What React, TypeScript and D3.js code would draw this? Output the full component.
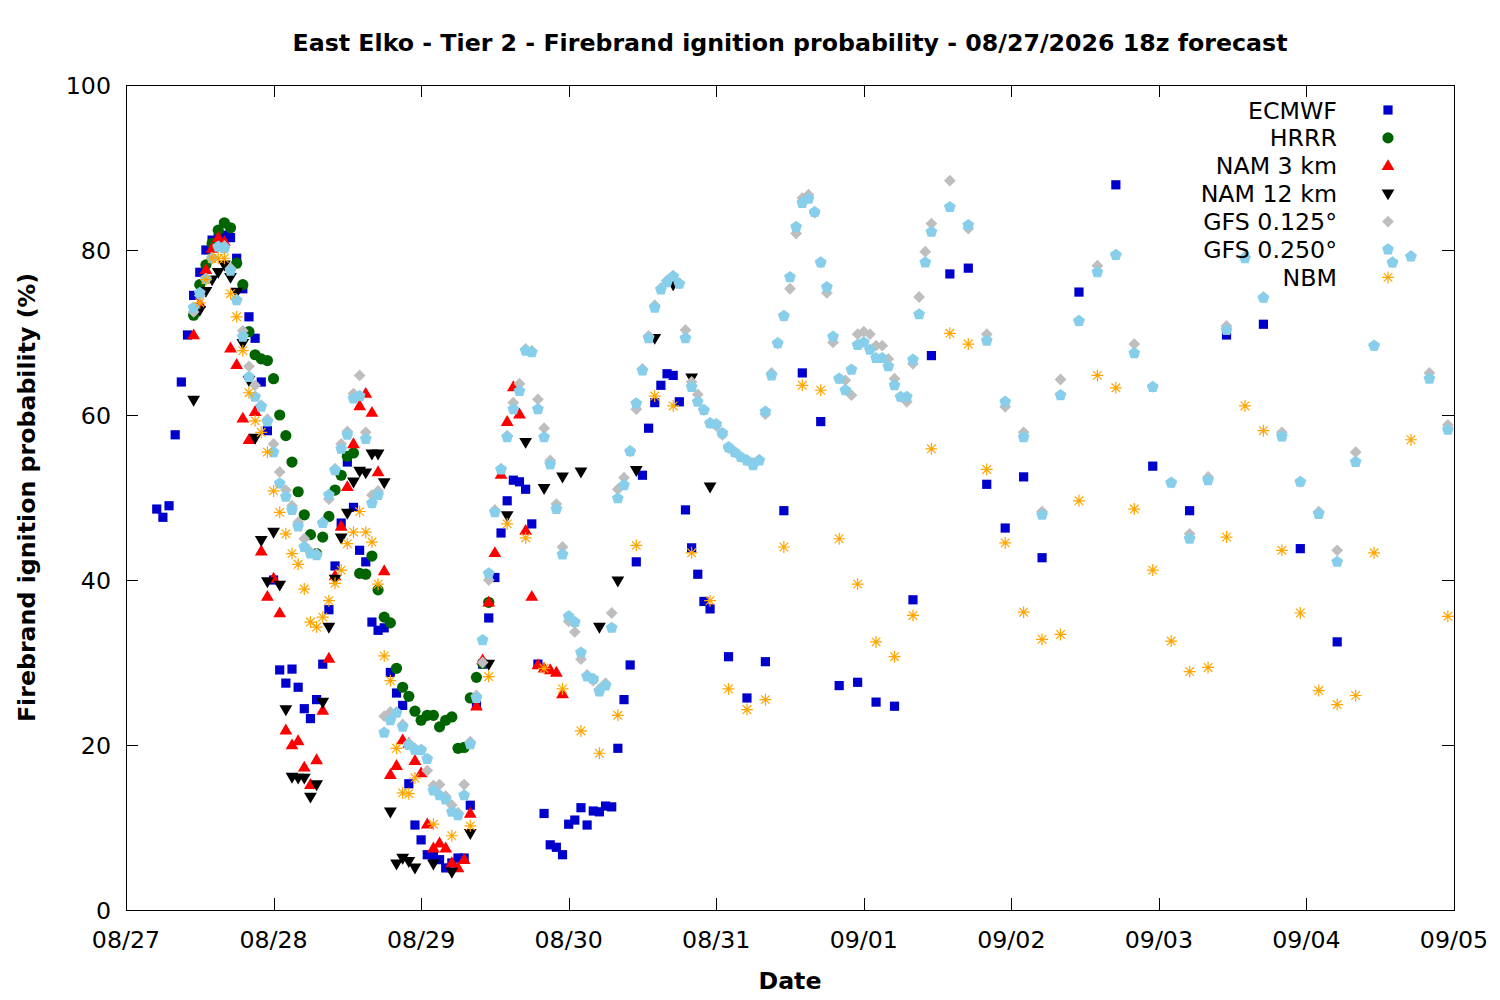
import * as d3 from 'd3';
import { useEffect, useRef } from 'react';

// valid times are hours after 08/27 00h, values in %
const DAY0 = Date.UTC(2026, 7, 27);

const ecmwfHourly = [
  48.6, 47.6, 49.0, 57.6, 64.0, 69.7, 74.5, 77.3, 80.0, 81.2,
  81.5, 81.8, 81.5, 79.0, 75.3, 71.9, 69.3, 64.0, 58.1, 40.0,
  29.1, 27.5, 29.2, 27.0, 24.4, 23.2, 25.5, 29.8, 36.4, 41.7,
  46.9, 54.3, 48.8, 43.6, 42.2, 34.9, 33.9, 34.2, 28.8, 26.3,
  24.8, 15.3, 10.3, 8.5, 6.7, 6.5, 6.1, 5.1, 5.7, 6.3,
  6.3, 12.7, 24.8, 29.8, 35.4, 40.3, 45.7, 49.6, 52.1, 51.9,
  51.0, 46.8, 29.8, 11.7, 7.9, 7.6, 6.7, 10.4, 10.9, 12.4,
  10.3, 12.0, 11.9, 12.6, 12.5, 19.6, 25.5, 29.7, 42.2, 52.7,
  58.4, 61.5, 63.6, 65.0, 64.8, 61.6, 48.5, 43.9, 40.7, 37.4, 36.5,
];
const ecmwf3h = [30.7, 25.7, 30.1, 48.4, 65.1, 59.2, 27.2, 27.6, 25.2, 24.7, 37.6, 67.2, 77.1, 77.8, 51.6, 46.3, 52.5, 42.7];
const ecmwf6h = [74.9, 87.9, 53.8, 48.4, 69.7, 71.0, 43.8, 32.5];

const hrrrHourly = [
  72.1, 75.8, 78.2, 80.8, 82.4, 83.3, 82.7, 78.4, 75.8, 70.1,
  67.3, 66.8, 66.6, 64.4, 60.0, 57.5, 54.3, 50.7, 47.9, 45.5,
  43.2, 45.2, 47.7, 50.9, 52.7, 55.0, 55.4, 40.8, 40.7, 42.9,
  38.8, 35.5, 34.8, 29.3, 27.0, 25.9, 24.1, 23.0, 23.6, 23.6,
  22.2, 23.0, 23.4, 19.6, 19.7, 25.7, 28.2, 29.9, 37.3,
];

const nam3Hourly = [
  69.7, 73.5, 77.6, 80.2, 81.5, 81.0, 68.1, 66.1, 59.6, 57.0,
  60.4, 43.5, 38.0, 40.2, 36.0, 21.8, 20.0, 20.5, 17.3, 15.2,
  18.2, 24.2, 30.5, 40.5, 46.5, 51.3, 56.5, 61.1, 62.6, 60.3,
  53.1, 41.1, 16.4, 17.5, 20.6, 20.2, 18.1, 16.6, 10.4, 7.5,
  8.1, 7.5, 5.7, 5.1, 6.1, 11.7, 24.7, 30.3, 37.3, 43.3,
  52.8, 59.2, 63.4, 60.1, 46.0, 38.0, 29.7, 29.3, 29.1, 28.8, 26.2,
];

const nam12Hourly = [
  61.8, 72.7, 75.0, 76.4, 77.3, 78.2, 76.7, 74.9, 68.7, 64.2,
  57.2, 44.8, 39.8, 45.8, 39.4, 24.3, 16.1, 16.0, 16.0, 13.7,
  15.2, 25.2, 34.3, 40.1, 45.1, 48.1, 51.9, 53.2, 53.0, 55.3,
  55.3, 51.8, 11.9, 5.6, 6.3, 5.9, 5.1,
];
const nam12_3h = [5.6, 4.6, 9.3, 29.8, 47.8, 56.7, 51.1, 52.5, 53.1, 34.3, 39.9, 53.3, 69.3, 75.8, 64.5, 51.3];

const gfs125Hourly = [
  72.5, 74.5, 76.5, 79.0, 80.4, 80.5, 77.8, 74.0, 70.2, 65.9,
  63.6, 61.2, 59.5, 56.5, 53.1, 50.9, 49.0, 47.0, 45.0, 43.4,
  43.2, 47.0, 49.8, 53.5, 56.5, 58.0, 62.6, 64.8, 57.9, 50.3,
  50.8, 23.5, 24.0, 24.0, 22.5, 20.2, 19.6, 19.4, 16.9, 15.1,
  15.2, 13.8, 12.7, 11.8, 15.2, 20.4, 26.0, 30.0, 40.0, 48.5,
  53.5, 57.5, 61.5, 63.8, 68.0, 67.8, 61.9, 58.4, 54.5, 49.2,
  44.0, 35.0, 33.7, 30.4, 28.5, 27.8, 26.8, 27.5, 36.0, 51.0,
  52.4, 55.6, 60.7, 65.6, 69.6, 73.3, 75.4, 76.3, 76.9, 76.0,
  70.3, 64.0, 62.5, 60.6, 59.0, 58.7, 57.6, 56.0, 55.5, 54.9,
  54.5, 54.2, 54.6, 60.1, 65.1, 68.7, 72.0, 75.3, 82.0, 86.3,
  86.7, 84.5, 78.5, 74.8, 68.8, 64.4, 64.2, 62.4, 69.8, 70.1,
  69.8, 68.4, 68.4, 66.8, 64.4, 62.2, 61.6, 66.2, 74.3, 79.8, 83.2,
];
const gfs125_3h = [
  88.4, 82.6, 69.8, 61.0, 57.9, 48.3, 64.3, 71.4, 78.1, 79.4, 68.6, 63.4, 51.8, 45.6,
  52.5, 70.8, 79.2, 74.3, 57.9, 51.9, 48.3, 43.6, 55.5, 68.4, 78.5, 79.3, 65.1, 58.8,
];

const gfs250Hourly = [
  73.0, 74.8, 76.5, 79.0, 80.4, 80.2, 77.5, 73.9, 69.5, 64.6,
  62.2, 61.0, 59.2, 55.5, 51.7, 50.1, 48.5, 46.5, 44.0, 43.2,
  43.0, 46.9, 50.3, 53.3, 55.9, 57.6, 62.0, 62.3, 57.1, 49.3,
  50.3, 21.5, 23.0, 23.9, 22.2, 20.0, 19.4, 19.4, 18.3, 14.5,
  13.9, 13.4, 11.9, 11.5, 13.9, 20.1, 25.7, 32.7, 40.8, 48.2,
  53.4, 57.3, 60.7, 62.9, 67.8, 67.6, 60.7, 57.3, 54.0, 48.6,
  43.1, 35.6, 34.9, 31.2, 28.3, 28.0, 26.5, 27.2, 34.2, 49.9,
  51.5, 55.6, 61.4, 65.4, 69.3, 73.0, 75.2, 76.1, 76.8, 75.9,
  69.3, 63.4, 61.6, 60.6, 59.0, 58.9, 57.8, 56.1, 55.5, 54.9,
  54.5, 53.9, 54.5, 60.4, 64.8, 68.7, 72.0, 76.7, 82.8, 85.7,
  86.2, 84.6, 78.5, 75.5, 69.5, 64.4, 63.0, 65.5, 68.5, 68.8,
  67.9, 66.9, 66.9, 65.9, 63.6, 62.2, 62.2, 66.7, 72.2, 78.5, 82.2,
];
const gfs250_3h = [
  85.2, 83.0, 69.0, 61.6, 57.3, 47.9, 62.4, 71.4, 77.3, 79.4, 67.5, 63.4, 51.8, 45.0,
  52.1, 70.3, 79.0, 74.2, 57.4, 51.9, 48.0, 42.2, 54.3, 68.4, 78.5, 79.2, 64.4, 58.2,
];

const nbmHourly = [
  73.6, 76.4, 79.0, 79.0, 79.0, 74.7, 71.9, 67.8, 62.7, 59.3,
  57.9, 55.5, 50.8, 48.2, 45.6, 43.2, 41.9, 38.9, 34.9, 34.3,
  35.5, 37.5, 39.6, 41.2, 44.4, 45.8, 48.3, 45.8, 44.6, 39.5,
  30.8, 27.8, 19.6, 14.2, 14.1, 16.0,
];
const nbm3h = [
  10.4, 9.0, 10.2, 28.3, 46.8, 45.1, 29.3, 26.8, 21.7, 19.0, 23.6, 44.2, 62.3, 61.1,
  43.3, 37.5, 26.8, 24.3, 25.5, 44.0, 63.6, 63.0, 45.0, 39.5, 32.5, 30.7, 35.7, 55.9,
  69.9, 68.6, 53.4, 44.5, 36.1, 32.8, 33.4, 49.6, 64.8, 63.3, 48.6, 41.2, 32.6, 28.9,
  29.4, 45.2, 61.1, 58.1, 43.6, 36.0, 26.6, 24.9, 26.0, 43.3,
];
const nbm6h = [57.0, 35.6];

const seriesNames = ['ECMWF', 'HRRR', 'NAM 3 km', 'NAM 12 km', 'GFS 0.125°', 'GFS 0.250°', 'NBM'];
const seriesColors = ['#0000cc', '#006400', '#ff0000', '#000000', '#bebebe', '#87ceeb', '#ffa500'];
const yTicks = [0, 20, 40, 60, 80, 100];

type Pt = { t: Date; v: number };
const run = (start: number, step: number, vals: number[]): Pt[] =>
  vals.map((v, i) => ({ t: new Date(DAY0 + (start + i * step) * 3600e3), v }));

const seriesData: Pt[][] = [
  [...run(5, 1, ecmwfHourly), ...run(98, 3, ecmwf3h), ...run(155, 6, ecmwf6h)],
  run(11, 1, hrrrHourly),
  run(11, 1, nam3Hourly),
  [...run(11, 1, nam12Hourly), ...run(50, 3, nam12_3h)],
  [...run(11, 1, gfs125Hourly), ...run(134, 3, gfs125_3h)],
  [...run(11, 1, gfs250Hourly), ...run(134, 3, gfs250_3h)],
  [...run(12, 1, nbmHourly), ...run(50, 3, nbm3h), ...run(209, 6, nbm6h)],
];

const pentagon = d3.range(5).map((k) => {
  const a = (-90 + 72 * k) * Math.PI / 180;
  return [6.2 * Math.cos(a), 6.2 * Math.sin(a)];
});

const symbolPaths = [
  'M-4.6,-4.6h9.2v9.2h-9.2z',
  d3.symbol(d3.symbolCircle, Math.PI * 5.6 * 5.6)() as string,
  'M0,-6.6L6.4,4.3L-6.4,4.3Z',
  'M0,6.6L6.4,-4.3L-6.4,-4.3Z',
  'M0,-5.9L5.9,0L0,5.9L-5.9,0Z',
  'M' + pentagon.map((p) => p.join(',')).join('L') + 'Z',
  'M-6,0H6M0,-6V6M-4.3,-4.3L4.3,4.3M-4.3,4.3L4.3,-4.3',
];

export default function App() {
  const svgRef = useRef<SVGSVGElement>(null);

  useEffect(() => {
    const W = 1500;
    const H = 1000;
    const margin = { top: 85, right: 46, bottom: 90, left: 126 };
    const font = '"DejaVu Sans", Verdana, sans-serif';
    const fs = 23.7;

    const x = d3
      .scaleUtc()
      .domain([new Date(DAY0), new Date(DAY0 + 9 * 86400e3)])
      .range([margin.left, W - margin.right]);
    const y = d3.scaleLinear().domain([0, 100]).range([H - margin.bottom, margin.top]);

    const svg = d3.select(svgRef.current);
    svg.selectAll('*').remove();
    svg.append('rect').attr('width', W).attr('height', H).attr('fill', '#fff');

    const [x0, x1] = x.range();
    const [y0, y1] = y.range();

    // ticks, drawn inward and mirrored
    const g = svg.append('g').attr('stroke', '#000').attr('stroke-width', 1);
    const days = x.ticks(d3.utcDay.every(1)!);
    days.forEach((d) => {
      const px = Math.round(x(d)) + 0.5;
      g.append('line').attr('x1', px).attr('x2', px).attr('y1', y0).attr('y2', y0 - 12);
      g.append('line').attr('x1', px).attr('x2', px).attr('y1', y1).attr('y2', y1 + 12);
    });
    yTicks.forEach((t) => {
      const py = Math.round(y(t)) + 0.5;
      g.append('line').attr('x1', x0).attr('x2', x0 + 12).attr('y1', py).attr('y2', py);
      g.append('line').attr('x1', x1).attr('x2', x1 - 12).attr('y1', py).attr('y2', py);
    });
    g.append('rect')
      .attr('x', x0 + 0.5)
      .attr('y', y1 + 0.5)
      .attr('width', x1 - x0)
      .attr('height', y0 - y1)
      .attr('fill', 'none');

    const fmt = d3.utcFormat('%m/%d');
    svg
      .append('g')
      .selectAll('text')
      .data(days)
      .enter()
      .append('text')
      .attr('x', (d) => x(d))
      .attr('y', y0 + 38)
      .attr('text-anchor', 'middle')
      .attr('font-family', font)
      .attr('font-size', fs)
      .text((d) => fmt(d));

    svg
      .append('g')
      .selectAll('text')
      .data(yTicks)
      .enter()
      .append('text')
      .attr('x', x0 - 15)
      .attr('y', (d) => y(d) + 8.5)
      .attr('text-anchor', 'end')
      .attr('font-family', font)
      .attr('font-size', fs)
      .text((d) => d);

    svg
      .append('text')
      .attr('x', (x0 + x1) / 2)
      .attr('y', 51)
      .attr('text-anchor', 'middle')
      .attr('font-family', font)
      .attr('font-weight', 'bold')
      .attr('font-size', fs)
      .text('East Elko - Tier 2 - Firebrand ignition probability - 08/27/2026 18z forecast');

    svg
      .append('text')
      .attr('x', (x0 + x1) / 2)
      .attr('y', 989)
      .attr('text-anchor', 'middle')
      .attr('font-family', font)
      .attr('font-weight', 'bold')
      .attr('font-size', fs)
      .text('Date');

    svg
      .append('text')
      .attr('transform', `translate(35,${(y0 + y1) / 2}) rotate(-90)`)
      .attr('text-anchor', 'middle')
      .attr('font-family', font)
      .attr('font-weight', 'bold')
      .attr('font-size', fs)
      .text('Firebrand ignition probability (%)');

    const styleMark = (sel: any, i: number) => {
      if (i === 6) {
        sel.attr('fill', 'none').attr('stroke', seriesColors[i]).attr('stroke-width', 1.2);
      } else {
        sel.attr('fill', seriesColors[i]);
      }
    };

    seriesData.forEach((pts, i) => {
      const marks = svg
        .append('g')
        .selectAll('path')
        .data(pts)
        .enter()
        .append('path')
        .attr('d', symbolPaths[i])
        .attr('transform', (d) => `translate(${x(d.t)},${y(d.v)})`);
      styleMark(marks, i);
    });

    // legend
    const legend = svg.append('g');
    seriesNames.forEach((name, i) => {
      const ly = 110 + i * 27.9;
      legend
        .append('text')
        .attr('x', 1337)
        .attr('y', ly + 8.5)
        .attr('text-anchor', 'end')
        .attr('font-family', font)
        .attr('font-size', fs)
        .text(name);
      const m = legend.append('path').attr('d', symbolPaths[i]).attr('transform', `translate(1388,${ly})`);
      styleMark(m, i);
    });
  }, []);

  return (
    <svg
      ref={svgRef}
      width={1500}
      height={1000}
      style={{ position: 'absolute', left: 0, top: 0 }}
    ></svg>
  );
}
